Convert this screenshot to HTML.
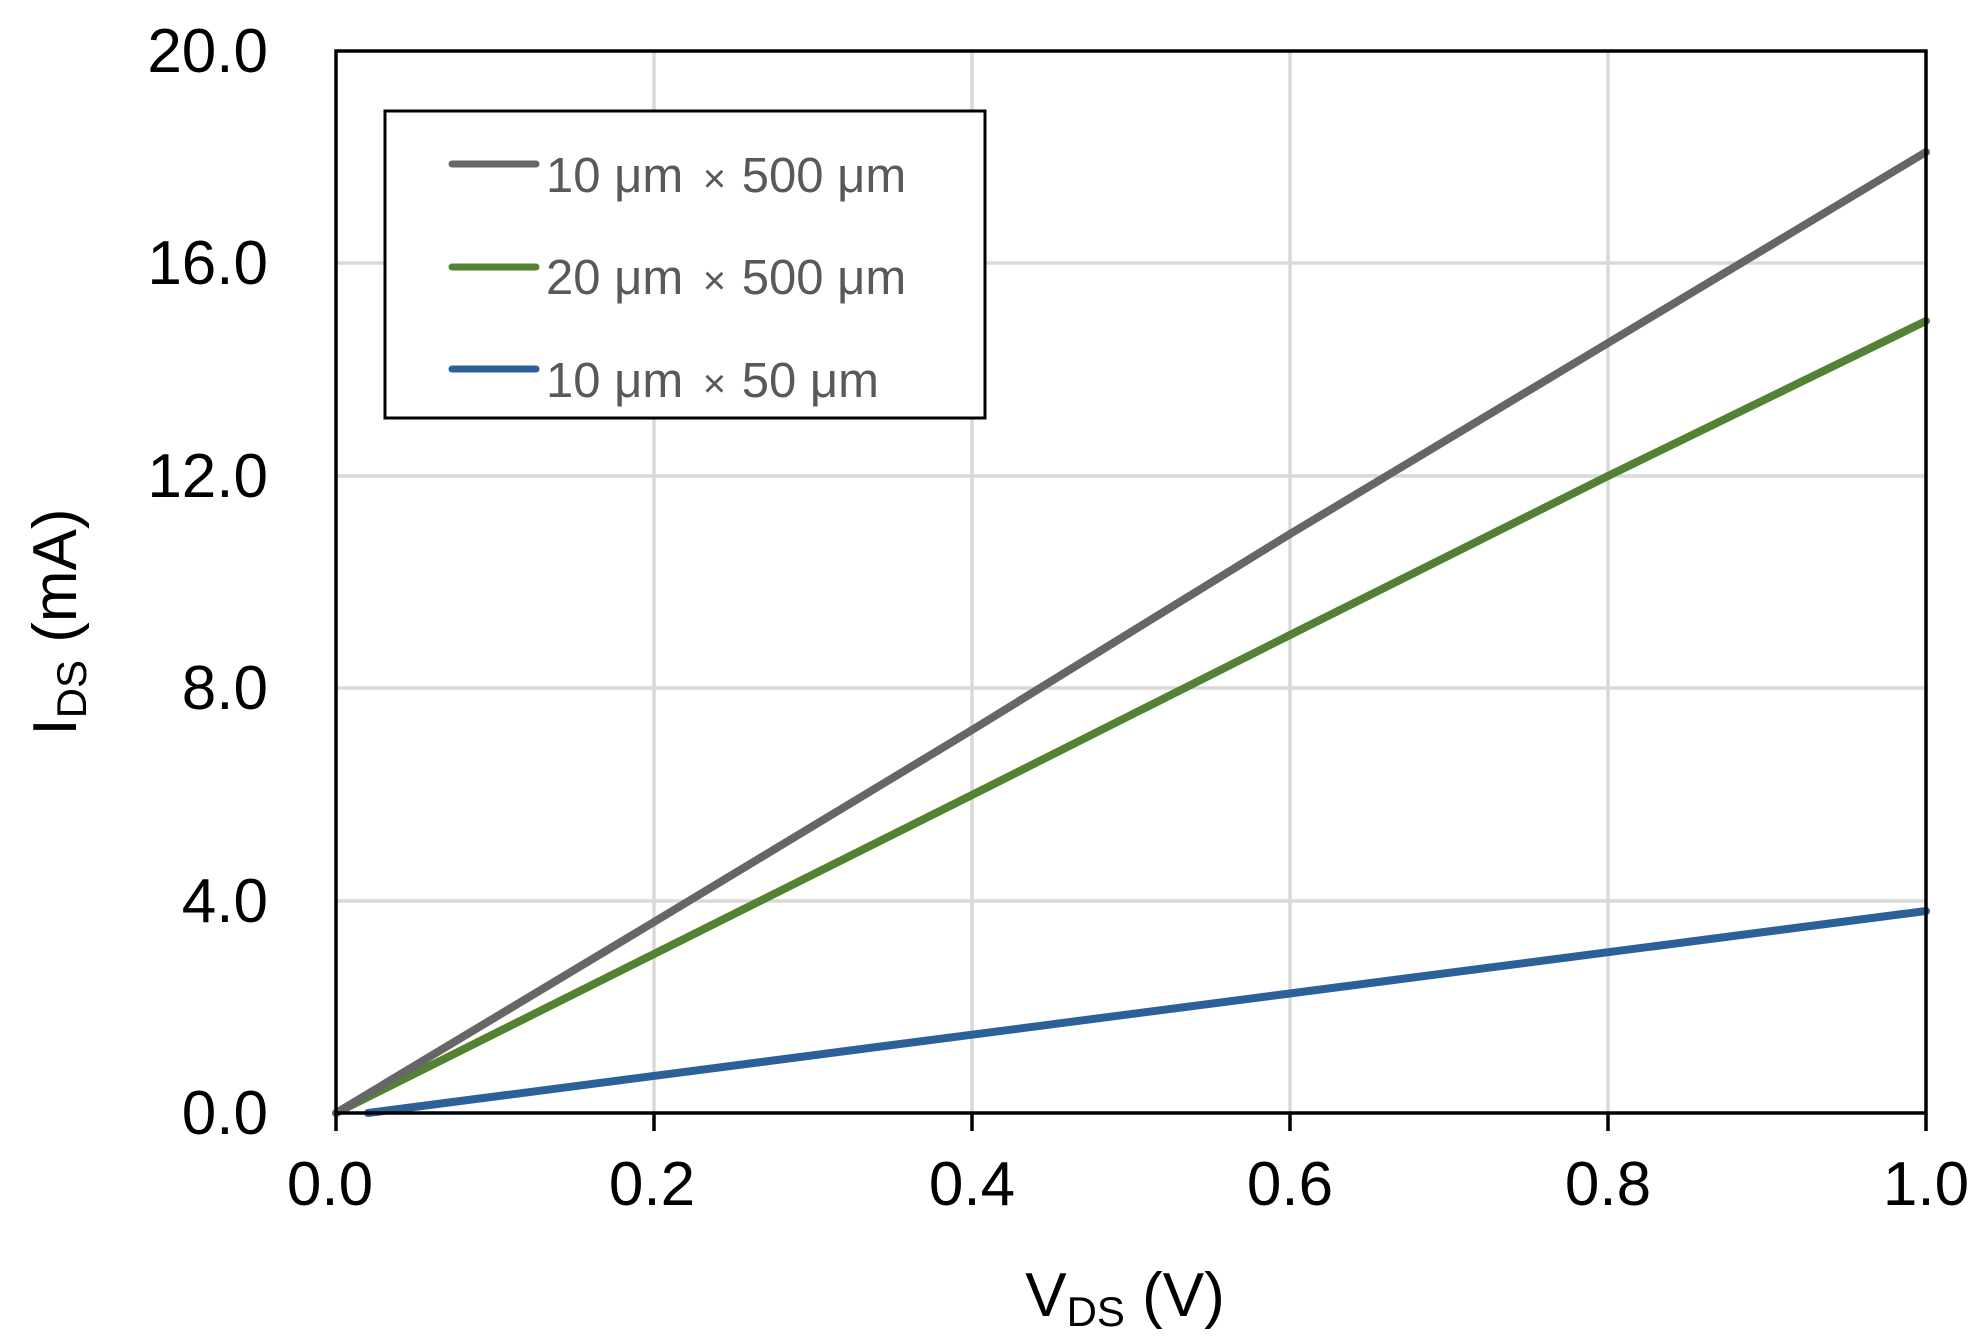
<!DOCTYPE html>
<html><head><meta charset="utf-8"><style>
html,body{margin:0;padding:0;background:#fff;}
svg{display:block;}
text{font-family:"Liberation Sans",sans-serif;}
</style></head><body>
<svg width="1982" height="1342" viewBox="0 0 1982 1342" xmlns="http://www.w3.org/2000/svg">
<rect width="1982" height="1342" fill="#fff"/>
<g stroke="#d9d9d9" stroke-width="3.5">
<line x1="654" y1="51" x2="654" y2="1113"/>
<line x1="972" y1="51" x2="972" y2="1113"/>
<line x1="1290" y1="51" x2="1290" y2="1113"/>
<line x1="1608" y1="51" x2="1608" y2="1113"/>
<line x1="336" y1="263" x2="1926" y2="263"/>
<line x1="336" y1="476" x2="1926" y2="476"/>
<line x1="336" y1="688" x2="1926" y2="688"/>
<line x1="336" y1="901" x2="1926" y2="901"/>
</g>
<g fill="none" stroke-width="8" stroke-linecap="round">
<polyline stroke="#2c6098" points="368,1113 1926,911"/>
<polyline stroke="#548235" points="336,1113 654,954 972,795 1290,635 1608,476 1926,321"/>
<polyline stroke="#666666" points="336,1113 654,922 972,730 1290,534 1608,343 1926,152"/>
</g>
<rect x="336" y="51" width="1590" height="1062" fill="none" stroke="#000" stroke-width="3.5"/>
<g stroke="#000" stroke-width="3.5">
<line x1="336" y1="1113" x2="336" y2="1131"/>
<line x1="654" y1="1113" x2="654" y2="1131"/>
<line x1="972" y1="1113" x2="972" y2="1131"/>
<line x1="1290" y1="1113" x2="1290" y2="1131"/>
<line x1="1608" y1="1113" x2="1608" y2="1131"/>
<line x1="1926" y1="1113" x2="1926" y2="1131"/>
</g>
<g font-size="62" fill="#000" text-anchor="end">
<text x="268" y="72">20.0</text>
<text x="268" y="284">16.0</text>
<text x="268" y="497">12.0</text>
<text x="268" y="709">8.0</text>
<text x="268" y="922">4.0</text>
<text x="268" y="1134">0.0</text>
</g>
<g font-size="62" fill="#000" text-anchor="middle">
<text x="330" y="1205">0.0</text>
<text x="652" y="1205">0.2</text>
<text x="972" y="1205">0.4</text>
<text x="1290" y="1205">0.6</text>
<text x="1608" y="1205">0.8</text>
<text x="1926" y="1205">1.0</text>
</g>
<text x="1125" y="1316" font-size="62" fill="#000" text-anchor="middle">V<tspan font-size="42" dy="10">DS</tspan><tspan dy="-10"> (V)</tspan></text>
<text transform="translate(76,622) rotate(-90)" font-size="62" fill="#000" text-anchor="middle">I<tspan font-size="42" dy="10">DS</tspan><tspan dy="-10"> (mA)</tspan></text>
<rect x="385" y="111" width="600" height="307" fill="#fff" stroke="#000" stroke-width="3"/>
<g stroke-width="7" stroke-linecap="round">
<line x1="452" y1="164" x2="536" y2="164" stroke="#666666"/>
<line x1="452" y1="267" x2="536" y2="267" stroke="#548235"/>
<line x1="452" y1="369" x2="536" y2="369" stroke="#2c6098"/>
</g>
<g font-size="49" fill="#595959">
<text x="546" y="192">10 μm <tspan font-size="40" dx="6">×</tspan> <tspan dx="2">500 μm</tspan></text>
<text x="546" y="294">20 μm <tspan font-size="40" dx="6">×</tspan> <tspan dx="2">500 μm</tspan></text>
<text x="546" y="397">10 μm <tspan font-size="40" dx="6">×</tspan> <tspan dx="2">50 μm</tspan></text>
</g>
</svg>
</body></html>
